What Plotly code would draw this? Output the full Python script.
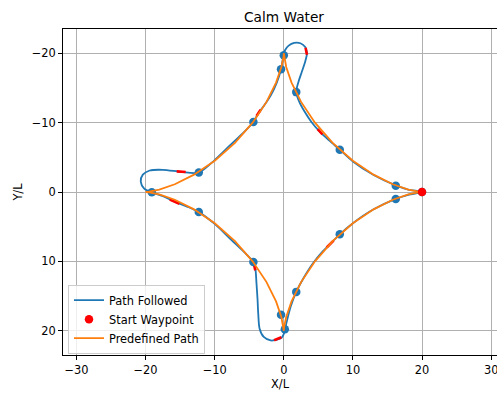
import plotly.graph_objects as go

# Predefined path (astroid-like star)
path_x = [20.0, 19.49, 18.02, 15.77, 12.99, 9.99, 7.07, 4.51, 2.5, 1.12, 0.35, 0.04, 0.0,
          -0.04, -0.35, -1.12, -2.5, -4.51, -7.07, -9.99, -12.99, -15.77, -18.02, -19.49, -20.0,
          -19.49, -18.02, -15.77, -12.99, -9.99, -7.07, -4.51, -2.5, -1.12, -0.35, -0.04, 0.0,
          0.04, 0.35, 1.12, 2.5, 4.51, 7.07, 9.99, 12.99, 15.77, 18.02, 19.49, 20.0]
path_y = [0.0, -0.04, -0.35, -1.12, -2.5, -4.51, -7.07, -9.99, -12.99, -15.77, -18.02, -19.49, -20.0,
          -19.49, -18.02, -15.77, -12.99, -9.99, -7.07, -4.51, -2.5, -1.12, -0.35, -0.04, 0.0,
          0.04, 0.35, 1.12, 2.5, 4.51, 7.07, 9.99, 12.99, 15.77, 18.02, 19.49, 20.0,
          19.49, 18.02, 15.77, 12.99, 9.99, 7.07, 4.51, 2.5, 1.12, 0.35, 0.04, 0.0]

# Path actually followed
follow_x = [20.0, 18.0, 16.2, 13.0, 10.0, 8.1, 6.6, 5.2, 4.0, 3.0, 2.2, 1.8, 2.1, 2.6, 3.1, 3.35,
            3.1, 2.4, 1.5, 0.7, 0.15, -0.05, -0.4, -1.0, -1.9, -2.9, -3.7, -4.4, -5.8, -7.6,
            -10.0, -12.3, -14.8, -17.5, -19.4, -20.4, -20.7, -20.2, -19.1, -17.4, -15.8, -14.0,
            -12.3, -10.0, -7.6, -5.8, -4.4, -4.1, -3.95, -3.8, -3.7, -3.5, -2.9, -1.9, -1.0,
            -0.3, 0.1, 0.4, 1.0, 1.8, 2.8, 4.2, 5.6, 6.7, 8.1, 10.0, 13.0, 16.2, 18.0, 20.0]
follow_y = [0.0, -0.35, -0.95, -2.45, -4.4, -6.1, -7.4, -8.7, -10.1, -11.6, -13.1, -14.4, -15.8,
            -17.3, -18.8, -20.0, -20.9, -21.45, -21.5, -21.1, -20.4, -19.7, -17.7, -15.8, -13.9,
            -12.4, -11.3, -10.1, -8.6, -6.9, -4.6, -2.8, -2.9, -3.2, -3.1, -2.5, -1.5, -0.5,
            0.05, 0.65, 1.4, 2.1, 2.9, 4.6, 6.9, 8.6, 10.1, 11.2, 13.2, 15.5, 17.5, 19.7, 20.9,
            21.4, 21.3, 21.0, 20.2, 18.8, 16.5, 14.4, 12.5, 10.3, 8.6, 7.5, 6.1, 4.5, 2.5, 1.0,
            0.4, 0.0]

# Short red highlighted pieces of the followed path (start/end pairs)
red_x = [[3.15, 3.35], [5.6, 4.9], [-3.35, -3.95], [-14.2, -15.5], [-15.1, -16.5],
         [-4.35, -4.12], [-1.4, -0.35], [6.2, 7.2]]
red_y = [[-20.8, -19.8], [-8.3, -9.05], [-11.85, -10.95], [-2.88, -2.97], [1.7, 1.1],
         [10.35, 11.3], [21.38, 20.95], [8.0, 7.0]]

# Waypoints
wp_x = [16.2, 8.1, 1.8, 0.0, -0.4, -4.4, -12.3, -19.1, -12.3, -4.4, -0.4, 0.15, 1.8, 8.1, 16.2, 20.0]
wp_y = [-0.9, -6.1, -14.4, -19.7, -17.7, -10.1, -2.8, 0.05, 2.9, 10.1, 17.7, 19.8, 14.4, 6.1, 1.0, 0.0]

start_x = [20.0]
start_y = [0.0]

x_ticks = [-30, -20, -10, 0, 10, 20, 30]
y_ticks = [-20, -10, 0, 10, 20]

BLUE = "#1f77b4"
ORANGE = "#ff7f0e"
RED = "#ff0000"
FONT = "DejaVu Sans"

fig = go.Figure()
fig.add_trace(go.Scatter(x=follow_x, y=follow_y, mode="lines", name="Path Followed",
                         line=dict(color=BLUE, width=1.8, shape="spline", smoothing=0.8),
                         legendrank=1))
for rx, ry in zip(red_x, red_y):
    fig.add_trace(go.Scatter(x=rx, y=ry, mode="lines", showlegend=False,
                             line=dict(color=RED, width=2.6)))
fig.add_trace(go.Scatter(x=wp_x, y=wp_y, mode="markers", showlegend=False,
                         marker=dict(color=BLUE, size=8.5)))
fig.add_trace(go.Scatter(x=path_x, y=path_y, mode="lines", name="Predefined Path",
                         line=dict(color=ORANGE, width=1.8), legendrank=3))
fig.add_trace(go.Scatter(x=start_x, y=start_y, mode="markers", name="Start Waypoint",
                         marker=dict(color=RED, size=8.5), legendrank=2))

W, H = 497, 393
ml, mt, mb = 63, 29, 38
fig.update_layout(
    width=W, height=H,
    margin=dict(l=ml, r=0, t=mt, b=mb, pad=0),
    paper_bgcolor="white", plot_bgcolor="white",
    font=dict(family=FONT, size=11.4, color="black"),
    title=dict(text="Calm Water", x=(284 - ml) / (W - ml), xref="paper", xanchor="center",
               y=1 - 17 / H, yanchor="middle", font=dict(size=13.7, family=FONT, color="black")),
    showlegend=True,
    legend=dict(x=0.0115, y=0.004, xanchor="left", yanchor="bottom",
                bgcolor="rgba(255,255,255,0.8)", bordercolor="#cccccc", borderwidth=1,
                font=dict(size=11.4, family=FONT), tracegroupgap=0, itemwidth=30),
    xaxis=dict(range=[-31.95, 30.85], tickvals=x_ticks, showgrid=True, gridcolor="#b0b0b0",
               gridwidth=1, zeroline=False, showline=True, linecolor="black", linewidth=1,
               mirror=True, ticks="outside", ticklen=4, tickcolor="black",
               ticklabeloverflow="allow",
               title=dict(text="X/L", standoff=3, font=dict(size=11.4))),
    yaxis=dict(range=[23.5, -23.5], tickvals=y_ticks, showgrid=True, gridcolor="#b0b0b0",
               gridwidth=1, zeroline=False, showline=True, linecolor="black", linewidth=1,
               mirror=False, ticks="outside", ticklen=4, tickcolor="black",
               title=dict(text="Y/L", standoff=6, font=dict(size=11.4))),
)

fig.write_html("out.html")
